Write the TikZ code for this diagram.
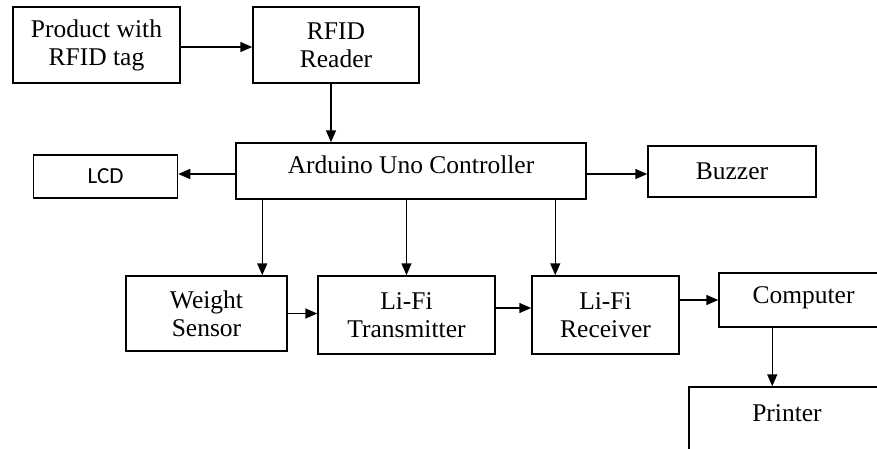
\documentclass[tikz,border=0pt]{standalone}
\usepackage{fontspec}
\setmainfont{Liberation Serif}
\newfontfamily\lcdfont{Carlito}
\usetikzlibrary{arrows.meta,positioning}

\begin{document}
\begin{tikzpicture}[x=1pt, y=-1pt, >={Triangle[length=12pt,width=10pt]},
  font=\fontsize{25.5}{28}\selectfont, line width=1.5pt,
  blk/.style={draw, align=center, inner sep=0pt}]
\useasboundingbox (0,0) rectangle (877,448);
\clip (0,0) rectangle (877,448);
\node[blk, minimum width=167pt, minimum height=76pt] (prod) at (96.5,45) {Product with\\RFID tag};
\node[blk, minimum width=166pt, minimum height=76pt] (rfid) at (336,45) {RFID\\Reader};
\node[blk, minimum width=350pt, minimum height=56pt, text depth=12pt] (ard) at (411,171) {Arduino Uno Controller};
\node[blk, minimum width=144pt, minimum height=43pt, font=\lcdfont\fontsize{23}{26}\selectfont] (lcd) at (105.5,176.5) {LCD};
\node[blk, minimum width=168pt, minimum height=51pt] (buz) at (732,171.5) {Buzzer};
\node[blk, minimum width=161pt, minimum height=75pt] (wgt) at (206.5,313.5) {Weight\\Sensor};
\node[blk, minimum width=177pt, minimum height=78pt] (tx) at (406.5,315) {Li-Fi\\Transmitter};
\node[blk, minimum width=147pt, minimum height=78pt] (rx) at (605.5,315) {Li-Fi\\Receiver};
\node[blk, minimum width=169pt, minimum height=54pt, text depth=10pt] (comp) at (803.5,300) {Computer};
\node[blk, minimum width=196pt, minimum height=66pt, text depth=14pt] (prt) at (787,420) {Printer};
% connectors
\draw[->] ([yshift=-2pt]prod.east) -- ([yshift=-2pt]prod.east -| rfid.west);
\draw[->] ([xshift=-5pt]rfid.south) -- ([xshift=-5pt]rfid.south |- ard.north);
\draw[->] ([yshift=-3pt]ard.west) -- ([yshift=-3pt]ard.west -| lcd.east);
\draw[->] ([yshift=-3pt]ard.east) -- ([yshift=-3pt]ard.east -| buz.west);
\draw[->] ([xshift=27pt]ard.south west) -- ([xshift=27pt]ard.south west |- wgt.north);
\draw[->] (tx.north |- ard.south) -- (tx.north);
\draw[->] ([xshift=320pt]ard.south west) -- ([xshift=320pt]ard.south west |- rx.north);
\draw[->] (wgt.east) -- (wgt.east -| tx.west);
\draw[->] ([yshift=7pt]tx.east) -- ([yshift=7pt]tx.east -| rx.west);
\draw[->] (rx.east |- comp.west) -- (comp.west);
\draw[->] ([xshift=54pt]comp.south west) -- ([xshift=54pt]comp.south west |- prt.north);
\end{tikzpicture}
\end{document}
